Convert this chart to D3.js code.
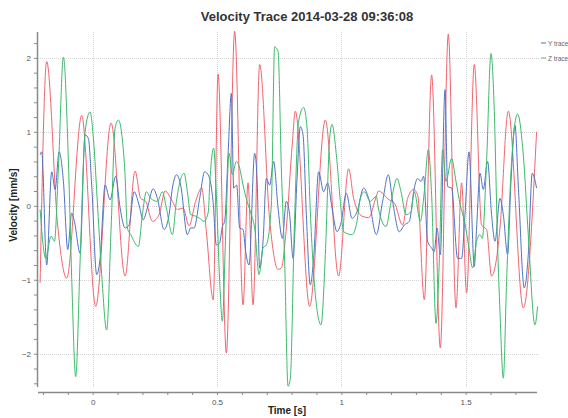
<!DOCTYPE html>
<html>
<head>
<meta charset="utf-8">
<script src="https://cdn.jsdelivr.net/npm/d3@7"></script>
<style>
  body { margin: 0; background: #fff; }
  text { font-family: "Liberation Sans", Arial, sans-serif; }
</style>
</head>
<body>
<svg id="chart" width="568" height="418"></svg>
<script>
// [time s, velocity mm/s]
const xTrace = [
  [-0.2115, -1.04], [-0.185, 1.95], [-0.141, -0.26], [-0.1045, -0.98], [-0.0442, 1.22],
  [0.0121, -1.36], [0.074, 1.12], [0.1303, -0.95], [0.1705, 0.47], [0.193, 0.10],
  [0.2131, 0.06], [0.24, -0.21], [0.267, -0.12], [0.2911, 0.20], [0.3205, 0.06],
  [0.3406, -0.05], [0.3635, -0.03], [0.3876, -0.27], [0.4141, 0.06], [0.4383, 0.24],
  [0.4572, -0.35], [0.4848, -1.27], [0.5042, 1.78], [0.5376, -1.99], [0.571, 2.36],
  [0.6047, -1.34], [0.6248, 0.31], [0.645, -1.34], [0.6715, 1.91], [0.7117, -0.19],
  [0.7455, -0.86], [0.7587, -0.84], [0.7788, -0.30], [0.803, 0.85], [0.815, 1.28],
  [0.8725, -1.36], [0.9357, 1.16], [0.9891, -0.95], [1.0294, 0.50], [1.0495, 0.10],
  [1.0832, -0.14], [1.1098, -0.16], [1.1407, 0.13], [1.1488, 0.20], [1.193, 0.08],
  [1.2131, 0.04], [1.2465, -0.26], [1.2666, 0.10], [1.2907, 0.22], [1.3068, 0.15],
  [1.3337, -1.27], [1.3631, 1.77], [1.3981, -1.92], [1.4302, 2.32], [1.4612, -1.38],
  [1.4837, 0.31], [1.5038, -1.18], [1.5348, 1.91], [1.5641, -0.26], [1.5842, -0.32],
  [1.6043, -0.95], [1.6244, -0.71], [1.6381, -0.30], [1.6715, 1.28], [1.7318, -1.38],
  [1.7853, 1.0]
];

const yTrace = [
  [-0.2115, 0.69], [-0.205, 0.73], [-0.185, -0.80], [-0.1649, 0.46], [-0.1512, 0.22],
  [-0.1351, 0.73], [-0.1178, 0.33], [-0.1005, -0.59], [-0.0844, -0.10], [-0.0736, -0.21],
  [-0.0507, -0.64], [-0.0306, 0.96], [-0.0173, 0.91], [-0.004, 0.28], [0.0161, -0.93],
  [0.0298, -0.71], [0.0499, 0.28], [0.07, 0.08], [0.0925, 0.40], [0.1102, -0.03],
  [0.1303, -0.30], [0.1464, -0.26], [0.1665, 0.19], [0.1866, 0.01], [0.2027, -0.19],
  [0.22, -0.03], [0.2429, 0.23], [0.2602, 0.10], [0.2871, -0.32], [0.3072, -0.12],
  [0.3205, 0.24], [0.3378, 0.42], [0.3538, 0.28], [0.3808, -0.39], [0.394, -0.30],
  [0.4077, -0.30], [0.4302, 0.10], [0.4503, 0.46], [0.467, 0.40], [0.484, 0.06],
  [0.4974, -0.53], [0.5107, -0.50], [0.5215, -0.28], [0.5308, -0.21], [0.5444, 0.69],
  [0.5577, 1.52], [0.567, 0.24], [0.579, 0.28], [0.5911, -0.30], [0.6047, -0.32],
  [0.6152, -0.62], [0.6289, -0.80], [0.6514, 0.71], [0.661, 0.37], [0.6715, -0.84],
  [0.6852, -0.48], [0.6984, 0.37], [0.7117, 0.28], [0.7278, 0.60], [0.7455, -0.03],
  [0.7628, -0.44], [0.7788, 0.06], [0.7921, -0.12], [0.8058, -0.71], [0.8219, 0.37],
  [0.8351, 1.07], [0.846, 0.96], [0.8593, -0.12], [0.8753, -1.07], [0.8886, -0.71],
  [0.9087, 0.46], [0.9288, 0.19], [0.9449, 0.31], [0.9626, -0.03], [0.9827, -0.35],
  [0.9988, -0.23], [1.0201, 0.17], [1.043, -0.17], [1.0631, -0.08], [1.0897, 0.24],
  [1.1098, 0.10], [1.1407, -0.39], [1.1661, 0.06], [1.189, 0.42], [1.2063, 0.06],
  [1.2332, -0.35], [1.2533, -0.26], [1.2734, -0.21], [1.2935, 0.24], [1.3068, 0.37],
  [1.3205, 0.33], [1.3309, 0.40], [1.347, -0.48], [1.3631, -0.57], [1.374, -0.62],
  [1.3848, -0.30], [1.3981, -0.66], [1.417, 1.57], [1.4275, 0.26], [1.4435, 0.24],
  [1.4676, -0.71], [1.4837, -0.71], [1.4974, -0.12], [1.5135, 0.73], [1.5348, -0.82],
  [1.544, -0.30], [1.5577, 0.44], [1.571, 0.22], [1.5883, 0.60], [1.6043, -0.12],
  [1.618, -0.48], [1.638, 0.10], [1.6515, -0.12], [1.6687, -0.66], [1.6824, 0.33],
  [1.6984, 1.09], [1.7117, 0.28], [1.7358, -1.11], [1.7519, -0.66], [1.768, 0.44],
  [1.7853, 0.24]
];

const zTrace = [
  [-0.2115, -0.05], [-0.189, -0.71], [-0.1673, -0.41], [-0.154, -0.48], [-0.1379, 0.51],
  [-0.1178, 2.01], [-0.0977, 0.60], [-0.0844, -0.98], [-0.0684, -2.31], [-0.0507, -0.75],
  [-0.0306, 1.0], [-0.0105, 1.27], [0.0028, 0.91], [0.0201, -0.03], [0.0362, -0.93],
  [0.0563, -1.68], [0.074, -0.30], [0.0901, 1.05], [0.1033, 1.16], [0.1194, 0.89],
  [0.1295, 0.45], [0.1395, -0.30], [0.1528, -0.39], [0.1838, -0.55], [0.1998, -0.12],
  [0.2159, 0.19], [0.2332, 0.10], [0.2602, 0.06], [0.2803, 0.19], [0.2963, -0.03],
  [0.3205, -0.39], [0.3366, 0.06], [0.3675, 0.44], [0.3808, 0.19], [0.394, -0.12],
  [0.4141, -0.14], [0.4302, -0.17], [0.4479, -0.21], [0.4652, -0.08], [0.4705, 0.28],
  [0.4865, 0.78], [0.4974, 0.15], [0.5107, -1.02], [0.5215, -1.56], [0.5348, -0.39],
  [0.5484, 0.71], [0.5617, 0.42], [0.5778, 0.60], [0.5911, 0.51], [0.6047, 0.28],
  [0.6208, 0.06], [0.6381, -0.12], [0.6514, -0.30], [0.6691, -0.93], [0.6852, -0.57],
  [0.6984, -0.53], [0.7185, 0.01], [0.7318, 2.15], [0.7455, 2.09], [0.7587, 0.51],
  [0.772, -0.75], [0.7857, -2.44], [0.7949, -2.33], [0.811, -0.30], [0.8283, 1.14],
  [0.8484, 1.33], [0.8621, 1.05], [0.8753, -0.08], [0.8954, -1.20], [0.9184, -1.61],
  [0.9357, -0.66], [0.953, 0.91], [0.9626, 1.10], [0.9799, 0.69], [0.996, 0.06],
  [1.0092, -0.35], [1.043, -0.39], [1.0631, -0.21], [1.0764, 0.10], [1.0925, 0.19],
  [1.1166, 0.06], [1.1407, 0.13], [1.1488, -0.03], [1.1797, -0.28], [1.1998, 0.05],
  [1.224, 0.37], [1.24, 0.19], [1.2601, -0.12], [1.2802, -0.08], [1.2935, 0.19],
  [1.3177, -0.21], [1.3337, 0.19], [1.3498, 0.76], [1.3631, 0.15], [1.3808, -1.59],
  [1.3941, -0.75], [1.4073, 0.76], [1.421, 0.33], [1.4435, 0.64], [1.4612, 0.33],
  [1.4785, 0.01], [1.4957, -0.21], [1.5133, -0.57], [1.5282, -0.84], [1.544, -0.48],
  [1.5577, -0.39], [1.5669, -0.44], [1.5842, 0.60], [1.6019, 2.06], [1.6152, 1.28],
  [1.6285, -0.53], [1.6381, -1.43], [1.6515, -2.33], [1.6647, -1.02], [1.6848, 0.60],
  [1.7089, 1.24], [1.7318, 0.69], [1.7519, -0.39], [1.7788, -1.61], [1.7893, -1.36]
];

const seriesNames = ["X trace", "Y trace", "Z trace"];
const seriesColors = ["#f2646f", "#4d72c4", "#3dba6c"];
const legendNames = ["Y trace", "Z trace"];
const xMajorTicks = [0, 0.5, 1, 1.5];
const yMajorTicks = [-2, -1, 0, 1, 2];

const svg = d3.select("#chart");

const plotLeft = 38, plotRight = 537, plotTop = 32, plotBottom = 387;

const x = d3.scaleLinear().domain([-0.22, 1.787]).range([plotLeft, plotRight]);
const y = d3.scaleLinear().domain([-2.45, 2.35]).range([plotBottom, plotTop]);

// grid - faint dotted
const grid = svg.append("g").attr("stroke", "#d4d4d4").attr("stroke-dasharray", "1,1").attr("stroke-width", 1);
grid.selectAll(".hgrid")
  .data(yMajorTicks)
  .enter().append("line")
  .attr("x1", plotLeft).attr("x2", plotRight + 3)
  .attr("y1", d => Math.round(y(d)) + 0.5).attr("y2", d => Math.round(y(d)) + 0.5);
grid.selectAll(".vgrid")
  .data(xMajorTicks)
  .enter().append("line")
  .attr("y1", plotTop).attr("y2", plotBottom)
  .attr("x1", d => Math.round(x(d)) + 0.5).attr("x2", d => Math.round(x(d)) + 0.5);

// traces
const line = d3.line()
  .x(d => x(d[0]))
  .y(d => y(d[1]))
  .curve(d3.curveMonotoneX);

svg.append("g")
  .selectAll(".trace")
  .data([xTrace, yTrace, zTrace])
  .enter().append("path")
  .attr("class", "trace")
  .attr("fill", "none")
  .attr("stroke", (d, i) => seriesColors[i])
  .attr("stroke-width", 1)
  .attr("stroke-linejoin", "round")
  .attr("d", line);

// y axis (detached a little to the left)
const yAxis = d3.axisLeft(y)
  .tickValues(d3.range(-24, 24, 2).map(v => v / 10))
  .tickSize(3)
  .tickFormat(d => yMajorTicks.includes(d) ? d3.format("")(d) : "");
const ya = svg.append("g").attr("transform", "translate(37,0)").call(yAxis);
ya.select(".domain").attr("stroke", "#8a8a8a").attr("stroke-width", 1.5).attr("d", `M0.5,${plotTop}V${plotBottom}`);
ya.selectAll(".tick line").attr("stroke", "#8a8a8a");
ya.selectAll(".tick text").attr("fill", "#555").attr("font-size", 8).attr("x", -6);

// x axis (detached a little below)
const xAxis = d3.axisBottom(x)
  .tickValues(d3.range(-2, 18, 1).map(v => v / 10))
  .tickSize(3)
  .tickFormat(d => xMajorTicks.includes(d) ? d3.format("")(d) : "");
const xa = svg.append("g").attr("transform", "translate(0,392)").call(xAxis);
xa.select(".domain").attr("stroke", "#8a8a8a").attr("stroke-width", 1.5).attr("d", `M${plotLeft},0.5H${plotRight}`);
xa.selectAll(".tick line").attr("stroke", "#8a8a8a");
xa.selectAll(".tick text").attr("fill", "#555").attr("font-size", 8).attr("y", 7);

// titles
svg.append("text")
  .attr("x", 307).attr("y", 21)
  .attr("text-anchor", "middle")
  .attr("font-size", 13).attr("font-weight", "bold").attr("fill", "#333")
  .text("Velocity Trace 2014-03-28 09:36:08");

svg.append("text")
  .attr("x", 287).attr("y", 414)
  .attr("text-anchor", "middle")
  .attr("font-size", 10).attr("font-weight", "bold").attr("fill", "#222")
  .text("Time [s]");

svg.append("text")
  .attr("transform", "translate(17,205) rotate(-90)")
  .attr("text-anchor", "middle")
  .attr("font-size", 10).attr("font-weight", "bold").attr("fill", "#222")
  .text("Velocity [mm/s]");

// legend
const legend = svg.selectAll(".legend")
  .data(legendNames)
  .enter().append("g")
  .attr("class", "legend")
  .attr("transform", (d, i) => `translate(541,${43 + i * 15})`);
legend.append("line")
  .attr("x1", 0).attr("x2", 5)
  .attr("stroke", d => seriesColors[seriesNames.indexOf(d)])
  .attr("stroke-width", 1);
legend.append("text")
  .attr("x", 7).attr("y", 2.5)
  .attr("font-size", 6.5).attr("fill", "#666")
  .text(d => d);
</script>
</body>
</html>
